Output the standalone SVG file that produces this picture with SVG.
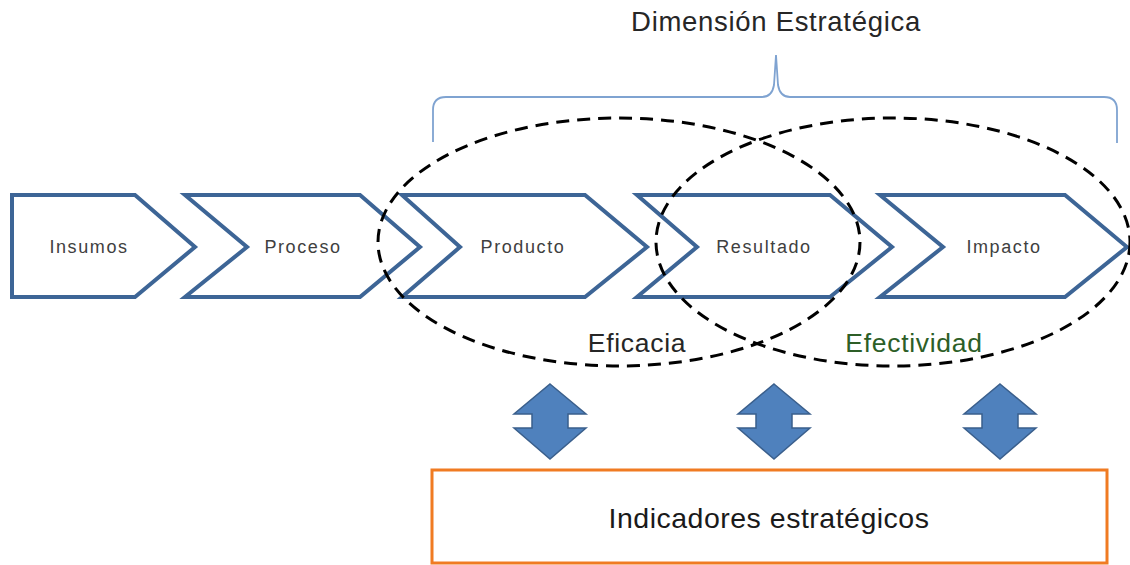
<svg xmlns="http://www.w3.org/2000/svg" width="1130" height="565" viewBox="0 0 1130 565">
<style>
.chev{fill:#fff;stroke:#3d6596;stroke-width:4;stroke-linejoin:miter}
.lbl{font-family:"Liberation Sans",Arial,sans-serif;font-size:18px;fill:#404040;text-anchor:middle;letter-spacing:1.6px}
.big{font-family:"Liberation Sans",Arial,sans-serif;font-size:26.5px;text-anchor:middle;letter-spacing:0.7px}
.ell{fill:none;stroke:#000;stroke-width:3;stroke-dasharray:13 8}
.dbl{fill:#4f81bd;stroke:#3a5f8c;stroke-width:1.5}
</style>
<rect width="1130" height="565" fill="#fff"/>
<g id="brace">
<path d="M433,142 L433,110 Q433,97 446,97 L762,97 Q772,97 774,85 L776,55 L778,85 Q780,97 790,97 L1104,97 Q1117,97 1117,110 L1117,143" fill="none" stroke="#7fa3d1" stroke-width="1.8"/>
<text class="big" x="776" y="31" fill="#262626" style="font-size:27.5px">Dimensión Estratégica</text>
</g>
<g id="insumos">
<polygon class="chev" points="12,195 135,195 195,247 135,297 12,297"/>
<text class="lbl" x="89" y="253">Insumos</text>
</g>
<g id="proceso">
<polygon class="chev" points="185,195 360,195 420,247 360,297 185,297 247,247"/>
<text class="lbl" x="303" y="253">Proceso</text>
</g>
<g id="producto">
<polygon class="chev" points="402,195 585,195 647,247 585,297 402,297 460,247"/>
<text class="lbl" x="523" y="253">Producto</text>
</g>
<g id="resultado">
<polygon class="chev" points="637,195 830,195 892,247 830,297 637,297 697,247"/>
<text class="lbl" x="764" y="253">Resultado</text>
</g>
<g id="impacto">
<polygon class="chev" points="880,195 1065,195 1127,247 1065,297 880,297 943,247"/>
<text class="lbl" x="1004" y="253">Impacto</text>
</g>
<g id="eficacia">
<ellipse class="ell" cx="619" cy="242" rx="241" ry="124"/>
<text class="big" x="637" y="352" fill="#262626">Eficacia</text>
</g>
<g id="efectividad">
<ellipse class="ell" cx="893" cy="242" rx="237" ry="124"/>
<text class="big" x="914" y="352" fill="#2d5e27">Efectividad</text>
</g>
<g id="connectors">
<path class="dbl" d="M550,384 L586,414 L568,414 L568,428 L586,428 L550,459 L514,428 L532,428 L532,414 L514,414 Z"/>
<path class="dbl" d="M774,384 L810,414 L792,414 L792,428 L810,428 L774,459 L738,428 L756,428 L756,414 L738,414 Z"/>
<path class="dbl" d="M1000,384 L1036,414 L1018,414 L1018,428 L1036,428 L1000,459 L964,428 L982,428 L982,414 L964,414 Z"/>
</g>
<g id="indicadores">
<rect x="432" y="470" width="675" height="93" fill="#fff" stroke="#f07b22" stroke-width="3"/>
<text class="big" x="769" y="528" fill="#1a1a1a" style="font-size:28.5px;letter-spacing:0.5px">Indicadores estratégicos</text>
</g>
</svg>
